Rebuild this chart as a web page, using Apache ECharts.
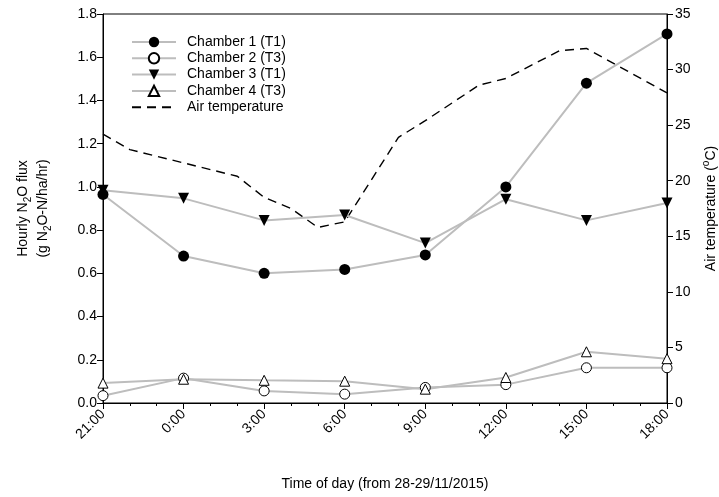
<!DOCTYPE html>
<html>
<head>
<meta charset="utf-8">
<script src="https://cdn.jsdelivr.net/npm/echarts@6/dist/echarts.min.js"></script>
<style>
  html, body { margin: 0; padding: 0; background: #fff; }
  #chart { width: 719px; height: 497px; }
</style>
</head>
<body>
<div id="chart"></div>
<script>
// tick labels of the time axis (every 3 hours, starting 21:00)
var tickLabels = ['21:00', '0:00', '3:00', '6:00', '9:00', '12:00', '15:00', '18:00'];
// hours elapsed since 21:00 for each chamber sample
var sampleHours = [0, 3, 6, 9, 12, 15, 18, 21];

// hourly N2O flux (g N2O-N/ha/hr)
var chamber1 = [0.965, 0.68, 0.60, 0.618, 0.685, 1.00, 1.48, 1.708];
var chamber2 = [0.034, 0.115, 0.056, 0.041, 0.072, 0.085, 0.163, 0.163];
var chamber3 = [0.985, 0.947, 0.845, 0.870, 0.740, 0.943, 0.845, 0.925];
var chamber4 = [0.092, 0.110, 0.105, 0.101, 0.064, 0.118, 0.237, 0.205];

// air temperature (°C), logged at these hours since 21:00
var airHours = [0, 1, 5, 6, 7, 8, 9, 11, 12, 14, 15, 17, 18, 21];
var airTemp  = [24.2, 22.8, 20.4, 18.5, 17.5, 15.8, 16.3, 23.9, 25.4, 28.6, 29.2, 31.7, 31.9, 27.9];

function pairs(xs, ys) {
	return xs.map(function(x, i) { return [x, ys[i]]; });
}

var font = 'Liberation Sans, Arial, sans-serif';
var grey = '#bdbdbd';

function chamberSeries(name, values, symbol, filled, rotate) {
	return {
		name: name,
		type: 'line',
		yAxisIndex: 0,
		data: pairs(sampleHours, values),
		symbol: symbol,
		symbolSize: filled ? 11 : 10,
		symbolRotate: rotate || 0,
		lineStyle: { color: grey, width: 2 },
		itemStyle: {
			color: filled ? '#000' : '#fff',
			borderColor: '#000',
			borderWidth: filled ? 0 : 1
		},
		z: 3
	};
}

var chart = echarts.init(document.getElementById('chart'));
var option = {
	animation: false,
	textStyle: { fontFamily: font, color: '#000' },
	grid: {
		left: 103, right: 52, top: 14, bottom: 94,
		outerBoundsMode: 'none',
		show: true, borderColor: '#000', borderWidth: 1
	},
	legend: {
		orient: 'vertical',
		left: 126,
		top: 30,
		itemWidth: 44,
		itemHeight: 13,
		itemGap: 2.3,
		textStyle: { fontFamily: font, fontSize: 14, color: '#000', padding: [0, 0, 0, 6] },
		data: ['Chamber 1 (T1)', 'Chamber 2 (T3)', 'Chamber 3 (T1)', 'Chamber 4 (T3)', 'Air temperature']
	},
	xAxis: {
		type: 'value',
		min: 0, max: 21, interval: 3,
		name: 'Time of day (from 28-29/11/2015)',
		nameLocation: 'middle',
		nameGap: 74,
		nameTextStyle: { fontSize: 14, color: '#000' },
		axisLine: { lineStyle: { color: '#000', width: 1 } },
		axisTick: { show: true, length: 6, lineStyle: { color: '#000' } },
		minorTick: { show: true, splitNumber: 3, length: 3, lineStyle: { color: '#000' } },
		splitLine: { show: false },
		axisLabel: {
			rotate: 45, fontSize: 14, color: '#000', margin: 9,
			formatter: function(v) { return tickLabels[Math.round(v / 3)]; }
		}
	},
	yAxis: [{
		type: 'value',
		min: 0, max: 1.8, interval: 0.2,
		name: '{t|Hourly N}{s|2}{t|O flux}\n{t|(g N}{s|2}{t|O-N/ha/hr)}',
		nameLocation: 'middle',
		nameRotate: 90,
		nameGap: 50,
		nameTextStyle: {
			rich: {
				t: { fontSize: 14, lineHeight: 20, color: '#000', fontFamily: font },
				s: { fontSize: 10, verticalAlign: 'bottom', color: '#000', fontFamily: font }
			}
		},
		axisLine: { show: true, lineStyle: { color: '#000', width: 1 } },
		axisTick: { show: true, length: 6, lineStyle: { color: '#000' } },
		splitLine: { show: false },
		axisLabel: {
			fontSize: 14, color: '#000', margin: 6,
			formatter: function(v) { return v.toFixed(1); }
		}
	}, {
		type: 'value',
		position: 'right',
		min: 0, max: 35, interval: 5,
		name: '{t|Air temperature (}{p|o}{t|C)}',
		nameLocation: 'middle',
		nameRotate: 90,
		nameGap: 34,
		nameTextStyle: {
			rich: {
				t: { fontSize: 14, lineHeight: 20, color: '#000', fontFamily: font },
				p: { fontSize: 10, verticalAlign: 'top', color: '#000', fontFamily: font }
			}
		},
		axisLine: { show: true, lineStyle: { color: '#000', width: 1 } },
		axisTick: { show: true, length: 6, lineStyle: { color: '#000' } },
		splitLine: { show: false },
		axisLabel: { fontSize: 14, color: '#000', margin: 8 }
	}],
	series: [
		chamberSeries('Chamber 1 (T1)', chamber1, 'circle', true),
		chamberSeries('Chamber 2 (T3)', chamber2, 'circle', false),
		chamberSeries('Chamber 3 (T1)', chamber3, 'triangle', true, 180),
		chamberSeries('Chamber 4 (T3)', chamber4, 'triangle', false),
		{
			name: 'Air temperature',
			type: 'line',
			yAxisIndex: 1,
			data: pairs(airHours, airTemp),
			symbol: 'none',
			lineStyle: { color: '#000', width: 1.4, type: [9, 6] },
			// transparent so the legend shows only the dashed line
			itemStyle: { color: 'rgba(0,0,0,0)', borderWidth: 0 },
			z: 2
		}
	]
};
chart.setOption(option);
</script>
</body>
</html>
